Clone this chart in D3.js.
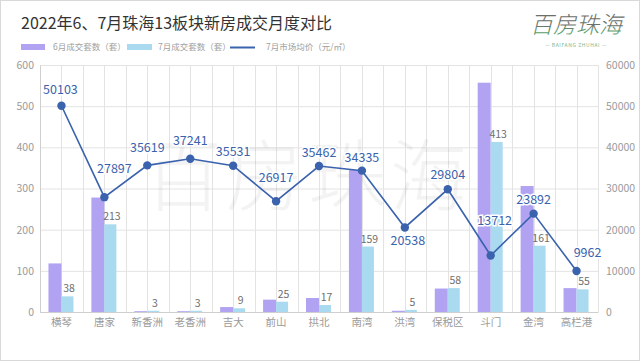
<!DOCTYPE html>
<html><head><meta charset="utf-8">
<script src="https://cdn.jsdelivr.net/npm/d3@7"></script>
<style>
html,body{margin:0;padding:0;background:#fff;}
svg{display:block;font-family:"Noto Sans CJK SC","Noto Sans",sans-serif;}
</style></head>
<body>
<svg id="c" width="640" height="361"></svg>
<script>
const categories = ["横琴","唐家","新香洲","老香洲","吉大","前山","拱北","南湾","洪湾","保税区","斗门","金湾","高栏港"];
const juneSales = [118, 278, 2, 2, 12, 30, 34, 345, 3, 57, 557, 306, 58];
const julySales = [38, 213, 3, 3, 9, 25, 17, 159, 5, 58, 413, 161, 55];
const julyPrice = [50103, 27897, 35619, 37241, 35531, 26917, 35462, 34335, 20538, 29804, 13712, 23892, 9962];
const leftTicks = [0,100,200,300,400,500,600];
const rightTicks = [0,10000,20000,30000,40000,50000,60000];
const seriesNames = ["6月成交套数（套）","7月成交套数（套）","7月市场均价（元/㎡）"];
const title = "2022年6、7月珠海13板块新房成交月度对比";

const W = 640, H = 361;
const m = {l:40, r:42, t:65, b:49};
const svg = d3.select("#c");
const purple = "#b1a3f1", blue = "#a9daef", lineC = "#3a62ad";

svg.append("rect").attr("x",0.5).attr("y",0.5).attr("width",W-1).attr("height",H-1)
  .attr("fill","#fff").attr("stroke","#d9d9d9");

const x = d3.scaleBand().domain(categories).range([m.l, W-m.r]);
const yL = d3.scaleLinear().domain([0,600]).range([H-m.b, m.t]);
const yR = d3.scaleLinear().domain([0,60000]).range([H-m.b, m.t]);

// grid
const g = svg.append("g");
g.selectAll("line.h").data(leftTicks).join("line")
  .attr("x1",m.l).attr("x2",W-m.r).attr("y1",d=>yL(d)+0.5).attr("y2",d=>yL(d)+0.5)
  .attr("stroke","#e3e3e3");
const vx = [];
categories.forEach(c=>{vx.push(x(c)); vx.push(x(c)+x.bandwidth()/2);});
vx.push(W-m.r);
g.selectAll("line.v").data(vx).join("line")
  .attr("x1",d=>Math.round(d)+0.5).attr("x2",d=>Math.round(d)+0.5)
  .attr("y1",m.t).attr("y2",H-m.b).attr("stroke","#e3e3e3");

// watermark
svg.append("text").attr("x",308).attr("y",205).attr("text-anchor","middle")
  .attr("font-size",78).attr("font-weight",200).attr("fill","#000").attr("opacity",0.045)
  .attr("letter-spacing",4).text("百房珠海");

// axes
const axL = d3.axisLeft(yL).tickValues(leftTicks).tickSize(0).tickPadding(6);
const axR = d3.axisRight(yR).tickValues(rightTicks).tickSize(0).tickPadding(8).tickFormat(d3.format("d"));
const axB = d3.axisBottom(x).tickSize(0).tickPadding(7);
const gl = svg.append("g").attr("transform",`translate(${m.l},0)`).call(axL);
const gr = svg.append("g").attr("transform",`translate(${W-m.r},0)`).call(axR);
const gb = svg.append("g").attr("transform",`translate(0,${H-m.b})`).call(axB);
[gl,gr,gb].forEach(a=>{
  a.selectAll("text").attr("fill","#9a9a9a").attr("font-size",10.5).attr("font-family",'"Noto Sans CJK SC",sans-serif');
  a.select(".domain").attr("stroke","#cfcfcf");
});
gr.select(".domain").remove();

// bars
const bw = 13;
const cx = c => x(c)+x.bandwidth()/2;
svg.append("g").selectAll("rect").data(categories).join("rect")
  .attr("x",c=>cx(c)-bw).attr("width",bw)
  .attr("y",(c,i)=>yL(juneSales[i])).attr("height",(c,i)=>yL(0)-yL(juneSales[i]))
  .attr("fill",purple);
svg.append("g").selectAll("rect").data(categories).join("rect")
  .attr("x",c=>cx(c)).attr("width",bw-1)
  .attr("y",(c,i)=>yL(julySales[i])).attr("height",(c,i)=>yL(0)-yL(julySales[i]))
  .attr("fill",blue);
svg.append("g").selectAll("text").data(categories).join("text")
  .attr("x",c=>cx(c)+bw/2+1).attr("y",(c,i)=>yL(julySales[i])-4)
  .attr("text-anchor","middle").attr("font-size",10.5).attr("fill","#6e6e6e")
  .text((c,i)=>julySales[i]);

// line
const line = d3.line().x(c=>cx(c)).y((c,i)=>yR(julyPrice[i]));
svg.append("path").datum(categories).attr("d",line).attr("fill","none")
  .attr("stroke",lineC).attr("stroke-width",1.6);
svg.append("g").selectAll("circle").data(categories).join("circle")
  .attr("cx",c=>cx(c)).attr("cy",(c,i)=>yR(julyPrice[i])).attr("r",4.2).attr("fill",lineC);
// label placement (layout offsets of label centre from the marker)
const lblDx = [-1,10,0,0,0,0,0,0,3,0,4,0,11];
const lblDy = [-16,-29,-18,-18,-14,-24,-14,-13,13,-15,-35,-14,-18];
svg.append("g").selectAll("text").data(categories).join("text")
  .attr("x",(c,i)=>cx(c)+lblDx[i]).attr("y",(c,i)=>yR(julyPrice[i])+lblDy[i]+4.5)
  .attr("text-anchor","middle").attr("font-size",12.5).attr("fill",lineC)
  .attr("stroke","#fff").attr("stroke-width",3).attr("paint-order","stroke")
  .text((c,i)=>julyPrice[i]);

// title
svg.append("text").attr("x",21).attr("y",28.5).attr("font-size",16).attr("fill","#333")
  .text(title);

// legend
const lg = svg.append("g").attr("font-size",8.5).attr("fill","#a0a0a0");
lg.append("rect").attr("x",21).attr("y",44).attr("width",24).attr("height",6).attr("fill",purple);
lg.append("text").attr("x",53).attr("y",50).text(seriesNames[0]);
lg.append("rect").attr("x",127).attr("y",44).attr("width",25).attr("height",6).attr("fill",blue);
lg.append("text").attr("x",158).attr("y",50).text(seriesNames[1]);
lg.append("line").attr("x1",230).attr("x2",255).attr("y1",47.5).attr("y2",47.5).attr("stroke",lineC).attr("stroke-width",2);
lg.append("text").attr("x",266).attr("y",50).text(seriesNames[2]);

// logo
const defs = svg.append("defs");
const gr2 = defs.append("linearGradient").attr("id","lg").attr("x1",0).attr("x2",0).attr("y1",0).attr("y2",1);
gr2.append("stop").attr("offset","0.55").attr("stop-color","#6a7069");
gr2.append("stop").attr("offset","0.75").attr("stop-color","#5a9a6a");
gr2.append("stop").attr("offset","1").attr("stop-color","#4caa70");
svg.append("text").attr("x",576).attr("y",33).attr("text-anchor","middle")
  .attr("font-size",23).attr("font-weight",300).attr("font-style","italic").attr("fill","url(#lg)")
  .text("百房珠海");
svg.append("text").attr("x",576).attr("y",47).attr("text-anchor","middle")
  .attr("font-size",5).attr("fill","#7cb88f").attr("letter-spacing",0.6)
  .text("— BAIFANG ZHUHAI —");
</script>
</body></html>
